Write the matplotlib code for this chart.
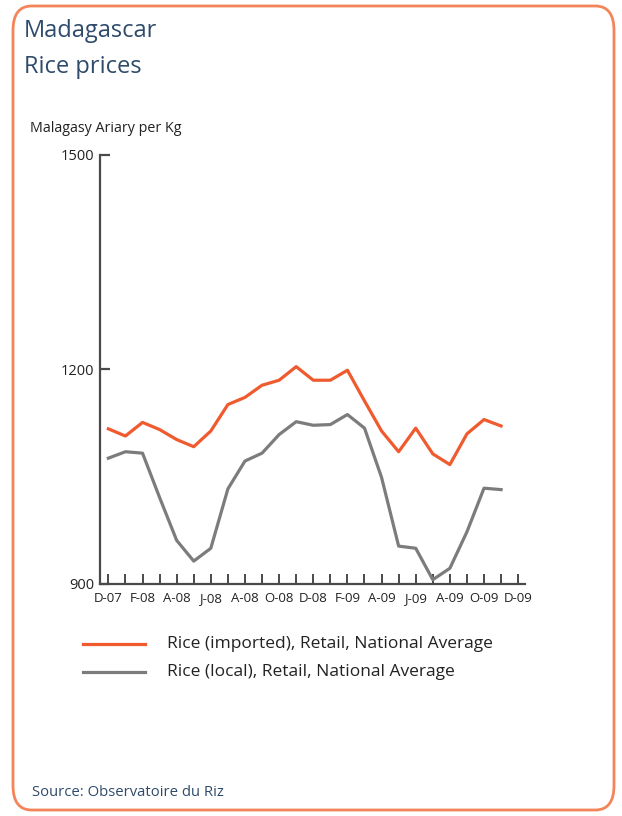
import numpy as np
import matplotlib
matplotlib.use('Agg')
import matplotlib.pyplot as plt
from matplotlib.patches import FancyBboxPatch
from matplotlib.lines import Line2D

plt.rcParams['font.family'] = ['Open Sans', 'DejaVu Sans']

# Monthly national average retail prices, Dec-07 .. Nov-09 (Ariary per kg)
months = list(range(24))
imported = [1117, 1107, 1126, 1116, 1102, 1092, 1114, 1151, 1161, 1178, 1185, 1204,
            1185, 1185, 1199, 1156, 1114, 1085, 1118, 1082, 1067, 1110, 1130, 1121]
local = [1076, 1085, 1083, 1021, 961, 932, 950, 1033, 1072, 1083, 1109, 1127,
         1122, 1123, 1137, 1118, 1049, 953, 950, 906, 922, 973, 1034, 1032]
tick_labels = ['D-07', 'F-08', 'A-08', 'J-08', 'A-08', 'O-08', 'D-08',
               'F-09', 'A-09', 'J-09', 'A-09', 'O-09', 'D-09']
yticks = [900, 1200, 1500]

RED = '#EF5B2E'
GREY = '#7C7C7C'
NAVY = '#2F4B6B'
AXIS = '#4A4A4A'

W, H = 622, 816
fig = plt.figure(figsize=(W / 100, H / 100), dpi=100)

# rounded orange frame
frame = FancyBboxPatch((13 / W, 6 / H), 601 / W, 804 / H,
                       boxstyle='round,pad=0,rounding_size=0.03',
                       transform=fig.transFigure, facecolor='none',
                       edgecolor='#F4845A', linewidth=2.0, zorder=-1)
fig.patches.append(frame)

fig.text(24 / W, 1 - 31 / H, 'Madagascar', fontsize=17, color=NAVY, va='center')
fig.text(24 / W, 1 - 67 / H, 'Rice prices', fontsize=17, color=NAVY, va='center')
fig.text(30 / W, 1 - 129 / H, 'Malagasy Ariary per Kg', fontsize=10.3, color='#222222', va='center')

ax = fig.add_axes([100 / W, 232 / H, 425 / W, 429 / H])
ax.plot(months, imported, color=RED, linewidth=2.3)
ax.plot(months, local, color=GREY, linewidth=2.3, clip_on=False)

ax.set_xlim(-0.49, 24.4)
ax.set_ylim(900, 1500)
ax.set_xticks(range(25))
ax.set_xticklabels([tick_labels[i // 2] if i % 2 == 0 else '' for i in range(25)])
ax.set_yticks(yticks)

for s in ['top', 'right']:
    ax.spines[s].set_visible(False)
for s in ['left', 'bottom']:
    ax.spines[s].set_color(AXIS)
    ax.spines[s].set_linewidth(1.6)

ax.tick_params(axis='x', direction='in', length=7, width=1.4, color=AXIS,
               labelsize=9.5, labelcolor='#222222', pad=6)
ax.tick_params(axis='y', direction='in', length=7, width=1.6, color=AXIS,
               labelsize=10.5, labelcolor='#222222', pad=4)

# legend drawn by hand in figure coords
for yy, col, lab in [(644, RED, 'Rice (imported), Retail, National Average'),
                     (672, GREY, 'Rice (local), Retail, National Average')]:
    fig.add_artist(Line2D([83 / W, 145 / W], [1 - yy / H, 1 - yy / H],
                          color=col, linewidth=2.3, transform=fig.transFigure))
    fig.text(167 / W, 1 - yy / H, lab, fontsize=12.5, color='#222222', va='center')

fig.text(32 / W, 1 - 793 / H, 'Source: Observatoire du Riz', fontsize=10.7,
         color=NAVY, va='center')

fig.savefig('out.png', dpi=100)
